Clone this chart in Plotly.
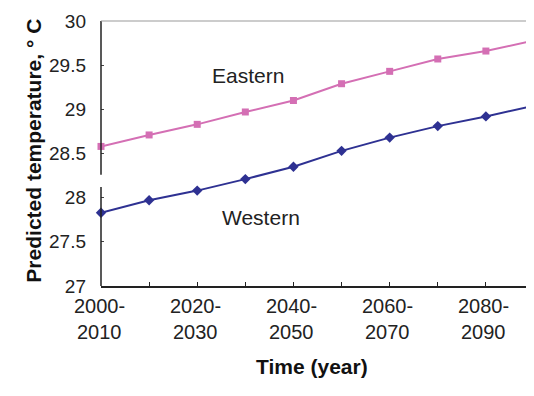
import plotly.graph_objects as go

periods = ["2000-2010", "2010-2020", "2020-2030", "2030-2040", "2040-2050",
           "2050-2060", "2060-2070", "2070-2080", "2080-2090", "2090-2100"]
eastern = [28.58, 28.71, 28.83, 28.97, 29.10, 29.29, 29.43, 29.57, 29.66, 29.78]
western = [27.83, 27.97, 28.08, 28.21, 28.35, 28.53, 28.68, 28.81, 28.92, 29.04]
label_periods = ["2000-2010", "2020-2030", "2040-2050", "2060-2070", "2080-2090"]
y_ticks = [27, 27.5, 28, 28.5, 29, 29.5, 30]
y_ticktext = ["27", "27.5", "28", "28.5", "29", "29.5", "30"]

FONT = "Liberation Sans, Arial, sans-serif"
PINK = "#d46fb4"
BLUE = "#2e3192"

fig = go.Figure()
fig.add_trace(go.Scatter(x=periods, y=eastern, mode="lines+markers", name="Eastern",
                         line=dict(color=PINK, width=2),
                         marker=dict(symbol="square", size=7, color=PINK),
                         cliponaxis=False))
fig.add_trace(go.Scatter(x=periods, y=western, mode="lines+markers", name="Western",
                         line=dict(color=BLUE, width=2),
                         marker=dict(symbol="diamond", size=8, color=BLUE),
                         cliponaxis=False))

# page body has an 8px margin: compensate so the plot area sits at x 101-534, y 21-286
fig.update_layout(
    width=526, height=388,
    margin=dict(l=93, r=0, t=13, b=110),
    paper_bgcolor="white", plot_bgcolor="white",
    showlegend=False,
    font=dict(family=FONT, color="#222", size=19),
)
fig.update_xaxes(type="category", range=[0, len(periods) - 1],
                 showgrid=False, zeroline=False, showticklabels=False,
                 ticks="inside", ticklen=4, tickcolor="#222",
                 showline=True, linecolor="#222", linewidth=1.5)
fig.update_yaxes(range=[27, 30], tickvals=y_ticks, ticktext=y_ticktext,
                 showgrid=False, zeroline=False, showline=False,
                 ticks="inside", ticklen=3, tickcolor="#444",
                 ticklabelstandoff=14, tickfont=dict(size=19, color="#222"))

# broken y axis line
fig.add_shape(type="line", xref="paper", yref="y", x0=0, x1=0, y0=27, y1=28.12,
              line=dict(color="#222", width=1.5))
fig.add_shape(type="line", xref="paper", yref="y", x0=0, x1=0, y0=28.26, y1=30,
              line=dict(color="#222", width=1.5))
# top border
fig.add_shape(type="line", xref="paper", yref="paper", x0=0, x1=1, y0=1, y1=1,
              line=dict(color="#999", width=1.2))

# x tick labels (two lines)
for p in label_periods:
    a, b = p.split("-")
    fig.add_annotation(x=p, xref="x", y=-0.1245, yref="paper", text=a + "-",
                       showarrow=False, xshift=-2, font=dict(size=20, color="#222"))
    fig.add_annotation(x=p, xref="x", y=-0.2226, yref="paper", text=b,
                       showarrow=False, xshift=-2, font=dict(size=20, color="#222"))

fig.add_annotation(x=0.487, xref="paper", y=-0.355, yref="paper", text="<b>Time (year)</b>",
                   showarrow=False, font=dict(size=21, color="#111"))
fig.add_annotation(x=-0.187, xref="paper", y=0.509, yref="paper",
                   text="<b>Predicted temperature, ° C</b>", textangle=-90,
                   showarrow=False, font=dict(size=21, color="#111"))
fig.add_annotation(x=periods[3], xref="x", y=29.38, yref="y", text="Eastern",
                   showarrow=False, xshift=3, font=dict(size=21, color="#222"))
fig.add_annotation(x=periods[3], xref="x", y=27.78, yref="y", text="Western",
                   showarrow=False, xshift=16, font=dict(size=21, color="#222"))

fig.write_html("out.html")
